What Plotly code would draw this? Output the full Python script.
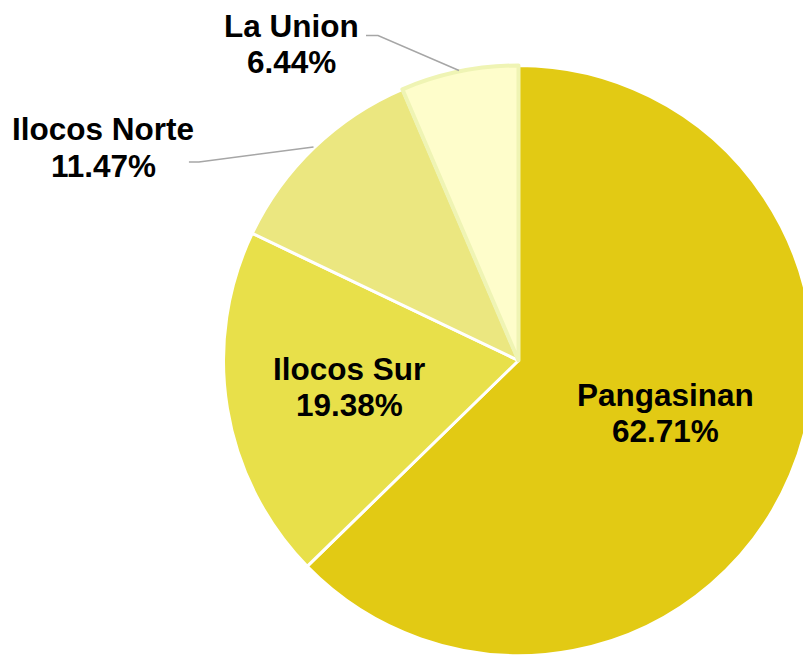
import math
import plotly.graph_objects as go

# ---- data ----
provinces = ["Pangasinan", "Ilocos Sur", "Ilocos Norte", "La Union"]
shares = [62.71, 19.38, 11.47, 6.44]

# ---- style ----
slice_colors = ["#E2CA14", "#E8E04A", "#EBE780", "#FEFDCB"]
line_colors = ["#FFFFFF", "#FFFFFF", "#FFFFFF", "#EFF4B4"]
line_widths = [3, 3, 3, 4]
label_pos = ["inside", "inside", "outside", "outside"]
FONT = "Liberation Sans, Arial, sans-serif"
FSIZE = 31.5

W, H = 830, 670          # page is cropped to 803x655 by the viewport
CX, CY = 518.5, 360.5    # pie centre in page pixels (y downwards)
R = 295.0                # pie radius in pixels

def px2paper(x, y):
    return x / W, 1 - y / H

x0, _ = px2paper(CX - R, 0)
x1, _ = px2paper(CX + R, 0)
_, y1 = px2paper(0, CY - R)
_, y0 = px2paper(0, CY + R)

fig = go.Figure(go.Pie(
    labels=provinces,
    values=shares,
    sort=False,
    direction="clockwise",
    rotation=0,
    marker=dict(colors=slice_colors, line=dict(color=line_colors, width=line_widths)),
    textinfo="none",
    hoverinfo="label+percent",
    showlegend=False,
    domain=dict(x=[x0, x1], y=[y0, y1]),
))

# label placement parameters (style): radial fraction / nudges / offsets
inside_cfg = {"Pangasinan": (0.53, 3, -8), "Ilocos Sur": (0.582, 0, -1.5)}
outside_cfg = {
    # elbow offset, line-end offset, text-centre offset (px, relative to edge point)
    "La Union": ((-81, -35), (-93, -35), (-168, -26.3), 36.5),
    "Ilocos Norte": ((-114.6, 15.1), (-124.6, 15.1), (-210.1, 0.6), 37),
}

total = sum(shares)
annotations = []
shapes = []
cum = 0.0
for name, v, pos in zip(provinces, shares, label_pos):
    mid = 2 * math.pi * (cum + v / 2) / total
    cum += v
    sx, sy = math.sin(mid), math.cos(mid)
    if pos == "inside":
        frac, nx, ny = inside_cfg[name]
        tx = CX + frac * R * sx + nx
        ty = CY - frac * R * sy + ny
        gap = 36
    else:
        ex = CX + (R + 1) * sx
        ey = CY - (R + 1) * sy
        elbow, end, toff, gap = outside_cfg[name]
        pts = [(ex, ey), (ex + elbow[0], ey + elbow[1]), (ex + end[0], ey + end[1])]
        pp = [px2paper(*p) for p in pts]
        path = "M {:.5f},{:.5f} L {:.5f},{:.5f} L {:.5f},{:.5f}".format(
            pp[0][0], pp[0][1], pp[1][0], pp[1][1], pp[2][0], pp[2][1])
        shapes.append(dict(type="path", path=path, xref="paper", yref="paper",
                           line=dict(color="#A6A6A6", width=1.5)))
        tx = ex + toff[0]
        ty = ey + toff[1]
    for txt, dy in ((name, -gap / 2), (f"{v:.2f}%", gap / 2)):
        ax_, ay_ = px2paper(tx, ty + dy)
        annotations.append(dict(
            x=ax_, y=ay_, xref="paper", yref="paper", text=txt, showarrow=False,
            xanchor="center", yanchor="middle",
            font=dict(family=FONT, size=FSIZE, color="#000000", weight="bold"),
        ))

fig.update_layout(
    width=W, height=H,
    margin=dict(l=0, r=0, t=0, b=0),
    paper_bgcolor="white",
    plot_bgcolor="white",
    annotations=annotations,
    shapes=shapes,
)

fig.write_html(
    "out.html",
    config={"displayModeBar": False},
    post_script="document.body.style.margin='0';document.body.style.overflow='hidden';"
                "document.documentElement.style.overflow='hidden';",
)
